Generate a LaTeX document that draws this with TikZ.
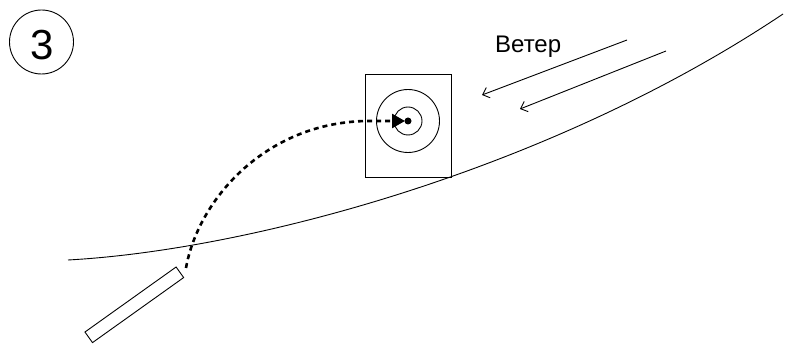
\documentclass[tikz,border=0pt]{standalone}
\usepackage{fontspec}
\setmainfont{Liberation Sans}
\usetikzlibrary{arrows.meta}
\begin{document}
\begin{tikzpicture}[x=1pt,y=-1pt,
  thin line/.style={line width=0.9pt},
  wind/.style={line width=0.9pt,-{Straight Barb[length=6pt,width=11pt,line width=0.9pt]}},
  path/.style={line width=2.6pt,dash pattern=on 5pt off 4pt,-{Triangle[length=13pt,width=14pt]}}]
\useasboundingbox (0,0) rectangle (795,344);
% number circle
\node[circle,draw,thin line,minimum size=64pt,inner sep=0pt] (num) at (41.5,42) {};
\node[anchor=base] (numtxt) at (42,60) {\fontsize{42}{42}\selectfont 3};
% ground curve
\coordinate (g1) at (68,260);
\coordinate (g2) at (783,14);
\draw[thin line] (g1) .. controls (250,250) and (550,170) .. (g2);
% target box
\node[draw,thin line,minimum width=86pt,minimum height=103pt,inner sep=0pt] (box) at (408,125.5) {};
\node[circle,draw,thin line,minimum size=63pt,inner sep=0pt] (outer) at (408,121) {};
\node[circle,draw,thin line,minimum size=28pt,inner sep=0pt] (inner) at (408,121) {};
\node[circle,fill,minimum size=7pt,inner sep=0pt] (dot) at (408,121) {};
% rod
\node[draw,thin line,minimum width=112pt,minimum height=13pt,inner sep=0pt,rotate=35.5] (rod) at (134.3,304.8) {};
% trajectory
\coordinate (start) at (186,268);
\coordinate (mid) at (366,121);
\coordinate (tip) at (405,121);
\draw[path] (start) .. controls (198,200) and (265,123) .. (mid) -- (tip);
% wind
\coordinate (w1s) at (627,40);
\coordinate (w1e) at (482,95);
\coordinate (w2s) at (666,51);
\coordinate (w2e) at (520,109);
\draw[wind] (w1s) -- (w1e);
\draw[wind] (w2s) -- (w2e);
\node[anchor=base west,inner sep=0pt] (wtxt) at (495,53) {\fontsize{24}{24}\selectfont Ветер};
\end{tikzpicture}
\end{document}
